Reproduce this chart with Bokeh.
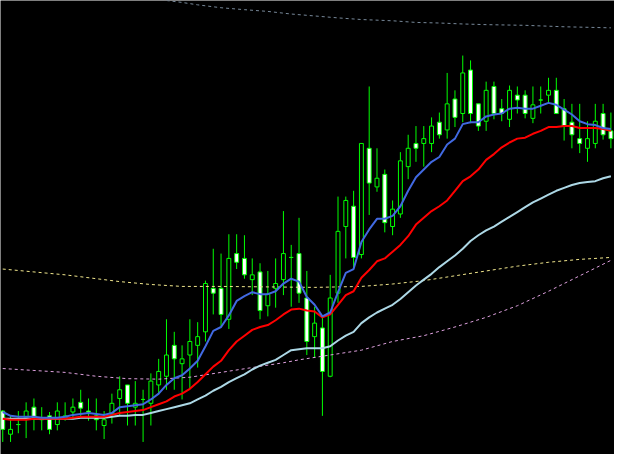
import numpy as np
from bokeh.plotting import figure
from bokeh.models import ColumnDataSource, Range1d
from bokeh.embed import file_html
from bokeh.resources import INLINE

# ---- candle data (price units) ----
open_ = [45, 21, 31, 38, 49, 37, 40, 31, 37, 44, 54, 45, 40, 30, 42, 58, 72, 49, 57, 53,
         72, 81, 113, 94, 103, 113, 127, 172, 172, 140, 208, 203, 181, 189, 154, 172, 181, 204, 208, 162,
         122, 131, 81, 167, 236, 257, 207, 317, 277, 290, 236, 249, 298, 322, 322, 322, 344, 336, 368, 353,
         398, 363, 345, 381, 358, 347, 372, 372, 348, 367, 372, 377, 358, 344, 327, 317, 322, 353, 335]
high = [46, 40, 45, 54, 58, 49, 44, 54, 54, 58, 67, 58, 58, 45, 63, 81, 72, 76, 67, 84,
        99, 140, 127, 113, 140, 137, 180, 213, 208, 228, 228, 227, 203, 198, 190, 203, 252, 217, 245, 190,
        153, 142, 186, 267, 267, 273, 322, 381, 317, 295, 263, 313, 331, 340, 340, 349, 354, 395, 377, 413,
        408, 363, 386, 386, 368, 382, 381, 377, 381, 381, 390, 390, 368, 363, 363, 345, 363, 363, 354]
low = [13, 13, 22, 17, 25, 25, 21, 25, 35, 37, 38, 35, 25, 16, 32, 40, 30, 30, 13, 30,
       62, 67, 67, 57, 68, 90, 117, 145, 133, 130, 192, 182, 165, 140, 143, 152, 165, 153, 157, 103,
       100, 40, 80, 157, 203, 193, 203, 248, 272, 230, 227, 245, 285, 303, 298, 313, 327, 327, 339, 344,
       343, 335, 335, 347, 345, 339, 353, 348, 343, 353, 363, 353, 325, 317, 312, 303, 317, 326, 317]
close = [26, 26, 31, 45, 38, 36, 26, 45, 40, 49, 48, 44, 36, 36, 53, 67, 53, 53, 57, 76,
         86, 103, 99, 99, 117, 122, 177, 167, 145, 203, 199, 186, 186, 149, 166, 177, 208, 204, 167, 117,
         136, 86, 162, 231, 263, 204, 322, 281, 286, 240, 254, 304, 317, 317, 327, 340, 331, 363, 349, 395,
         353, 340, 377, 353, 353, 377, 367, 353, 362, 367, 377, 353, 340, 331, 322, 327, 345, 331, 327]

# ---- moving averages, one value per bar ----
ma_fast = [44, 40, 39, 39, 39, 38, 38, 38, 39, 41, 42, 43, 42, 41, 43, 49, 50, 51, 52, 57,
           63, 72, 79, 82, 89, 97, 112, 128, 132, 144, 159, 164, 168, 166, 166, 169, 177, 182, 179, 163,
           155, 143, 147, 168, 188, 192, 220, 233, 244, 244, 247, 257, 273, 287, 295, 303, 308, 321, 327, 342,
           344, 344, 350, 352, 353, 358, 359, 358, 358, 361, 364, 362, 357, 352, 345, 342, 341, 338, 337]
ma_mid = [37, 36, 36, 36, 37, 37, 37, 37, 37, 38, 39, 39, 39, 39, 41, 43, 44, 45, 46, 49,
          52, 55, 60, 63, 68, 75, 83, 91, 97, 108, 117, 123, 129, 132, 134, 139, 145, 150, 151, 149,
          148, 142, 145, 155, 165, 169, 183, 191, 200, 203, 210, 217, 226, 238, 245, 252, 257, 263, 273, 283,
          288, 295, 305, 311, 318, 323, 327, 328, 332, 335, 339, 339, 340, 340, 338, 338, 338, 337, 335]
ma_slow = [37, 37, 37, 37, 37, 37, 37, 37, 37, 37, 38, 38, 38, 38, 39, 40, 40, 41, 41, 43,
           45, 47, 49, 51, 53, 57, 61, 66, 70, 75, 79, 83, 88, 92, 95, 98, 103, 108, 109, 110,
           110, 110, 112, 118, 123, 127, 136, 142, 147, 151, 155, 161, 168, 175, 181, 187, 194, 200, 206, 213,
           221, 227, 232, 236, 241, 246, 251, 256, 261, 265, 269, 273, 276, 279, 281, 282, 283, 286, 288]

# ---- long averages (dotted), sampled at bar indices ----
gray_idx = [18, 21, 23, 25, 28, 31, 34, 37, 40, 43, 46, 50, 53, 56, 59, 62, 67, 72, 78]
gray_val = [475, 470, 468, 465.5, 462.5, 460.5, 458.7, 456, 454, 452, 450.3, 449, 447.3, 446.7, 445.7, 445, 444.3, 442.8, 441.7]
yellow_idx = [0, 4, 8, 12, 15, 19, 23, 28, 34, 40, 46, 50, 54, 58, 62, 66, 70, 74, 78]
yellow_val = [192, 189, 186, 182, 179, 176, 174, 174, 173.5, 173, 174, 176.5, 180, 185, 190, 195, 199, 202, 204]
pink_idx = [0, 4, 8, 12, 16, 20, 24, 28, 32, 36, 38, 42, 46, 50, 54, 58, 62, 66, 70, 74, 78]
pink_val = [89, 87, 85, 81, 78.5, 78, 80, 85, 90, 95, 98, 103, 108, 117, 123, 132, 142, 154, 169, 185, 201]

n = len(open_)
idx = np.arange(n)
o = np.array(open_, float)
c = np.array(close, float)
top = np.maximum(o, c)
bot = np.minimum(o, c)
bear = c < o

src_all = ColumnDataSource(dict(x=idx, high=high, low=low))
src_bull = ColumnDataSource(dict(x=idx[~bear], top=top[~bear], bot=bot[~bear]))
src_bear = ColumnDataSource(dict(x=idx[bear], top=top[bear], bot=bot[bear]))

p = figure(width=614, height=454, output_backend="svg", toolbar_location=None,
           x_range=Range1d(-0.2875, 78.4625), y_range=Range1d(0, 470),
           min_border=0, background_fill_color="black", border_fill_color="black")
p.outline_line_color = None
p.axis.visible = False
p.xaxis.visible = False
p.yaxis.visible = False
p.grid.visible = False

lime = "#00FF00"
p.segment(x0="x", y0="low", x1="x", y1="high", source=src_all, line_color=lime, line_width=1)
p.vbar(x="x", top="top", bottom="bot", width=0.5, source=src_bull,
       fill_color="black", line_color=lime, line_width=1)
p.vbar(x="x", top="top", bottom="bot", width=0.5, source=src_bear,
       fill_color="white", line_color=lime, line_width=1)

p.line(gray_idx, gray_val, line_color="#778899", line_width=1, line_dash="3 3")
p.line(yellow_idx, yellow_val, line_color="#F0E68C", line_width=1, line_dash="3 3")
p.line(pink_idx, pink_val, line_color="#DDA0DD", line_width=1, line_dash="3 3")

p.line(idx, ma_slow, line_color="#ADD8E6", line_width=2)
p.line(idx, ma_mid, line_color="#FF0000", line_width=2)
p.line(idx, ma_fast, line_color="#4169E1", line_width=2)

open("out.html", "w").write(file_html(p, INLINE))
